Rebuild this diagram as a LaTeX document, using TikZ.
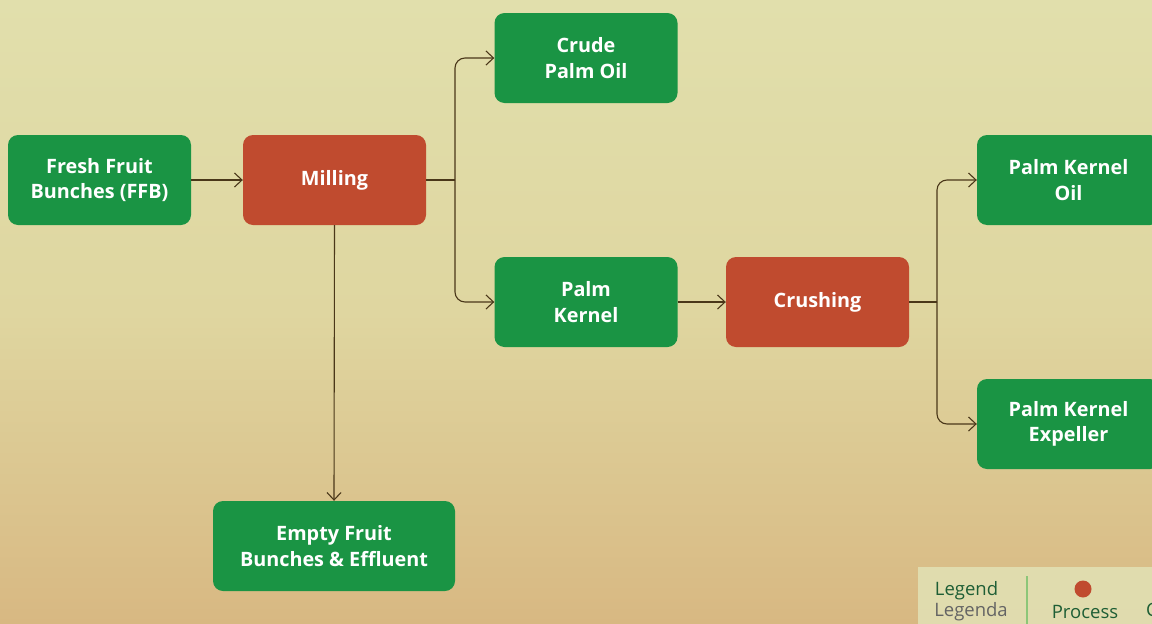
\documentclass[tikz,border=0pt]{standalone}
\usepackage{fontspec}
\setmainfont{Open Sans}
\usetikzlibrary{arrows.meta,positioning}
\definecolor{bgtop}{RGB}{225,223,172}
\definecolor{bgmid}{RGB}{223,214,160}
\definecolor{bgbot}{RGB}{216,184,130}
\definecolor{prodgreen}{RGB}{26,148,68}
\definecolor{procred}{RGB}{192,75,47}
\definecolor{linkbrown}{RGB}{74,55,25}
\definecolor{legfill}{RGB}{226,226,182}
\definecolor{legtext}{RGB}{30,94,53}
\definecolor{leggray}{RGB}{100,100,100}
\definecolor{legline}{RGB}{140,198,120}
\tikzset{
  x=1pt, y=-1pt,
  boxbase/.style={rounded corners=10pt, minimum width=183pt, minimum height=90pt,
    inner sep=0pt, align=center, text=white, font=\fontsize{19.8}{25.5}\selectfont\bfseries},
  product/.style={boxbase, fill=prodgreen},
  process/.style={boxbase, fill=procred},
  link/.style={draw=linkbrown, line width=1.1pt, rounded corners=10pt,
    -{Straight Barb[length=7.5pt,width=14pt,line width=1.1pt]}},
  plain/.style={draw=linkbrown, line width=1.1pt},
  legtxt/.style={font=\fontsize{18.5}{20}\selectfont, inner sep=0pt}
}
\begin{document}
\begin{tikzpicture}
\useasboundingbox (0,0) rectangle (1152,624);
\shade[top color=bgtop, bottom color=bgbot, middle color=bgmid] (0,0) rectangle (1152,624);

% nodes
\node[product] (ffb) at (99.5,180) {Fresh Fruit\\Bunches (FFB)};
\node[process] (mill) at (334.5,180) {Milling};
\node[product] (cpo) at (586,58) {Crude\\Palm Oil};
\node[product] (pk) at (586,302) {Palm\\Kernel};
\node[process] (crush) at (817.5,302) {Crushing};
\node[product] (pko) at (1068.5,180) {Palm Kernel\\Oil};
\node[product] (pke) at (1068.5,424) {Palm Kernel\\Expeller};
\node[product, minimum width=242pt] (efb) at (334,546) {Empty Fruit\\Bunches \& Effluent};

% connectors
\coordinate (msplit) at (455,180);
\coordinate (csplit) at (937,302);
\draw[link] (ffb) -- (mill);
\draw[plain] (mill.east) -- (msplit);
\draw[link] (msplit) |- (cpo.west);
\draw[link] (msplit) |- (pk.west);
\draw[link] (mill.south) -- (efb.north);
\draw[link] (pk) -- (crush);
\draw[plain] (crush.east) -- (csplit);
\draw[link] (csplit) |- (pko.west);
\draw[link] (csplit) |- (pke.west);

% legend
\fill[legfill, fill opacity=0.85] (918,567) rectangle (1160,630);
\draw[legline, line width=1.2pt] (1027,576) -- (1027,630);
\node[legtxt, text=legtext] (legt) at (966.5,591) {Legend};
\node[legtxt, text=leggray] (legs) at (971,612) {Legenda};
\node[circle, fill=procred, minimum size=17pt, inner sep=0pt] (pdot) at (1083,589) {};
\node[legtxt, text=legtext] (plab) at (1085,612) {Process};
\node[legtxt, text=legtext, anchor=west] (clab) at (1146,612) {Commodity};
\end{tikzpicture}
\end{document}
